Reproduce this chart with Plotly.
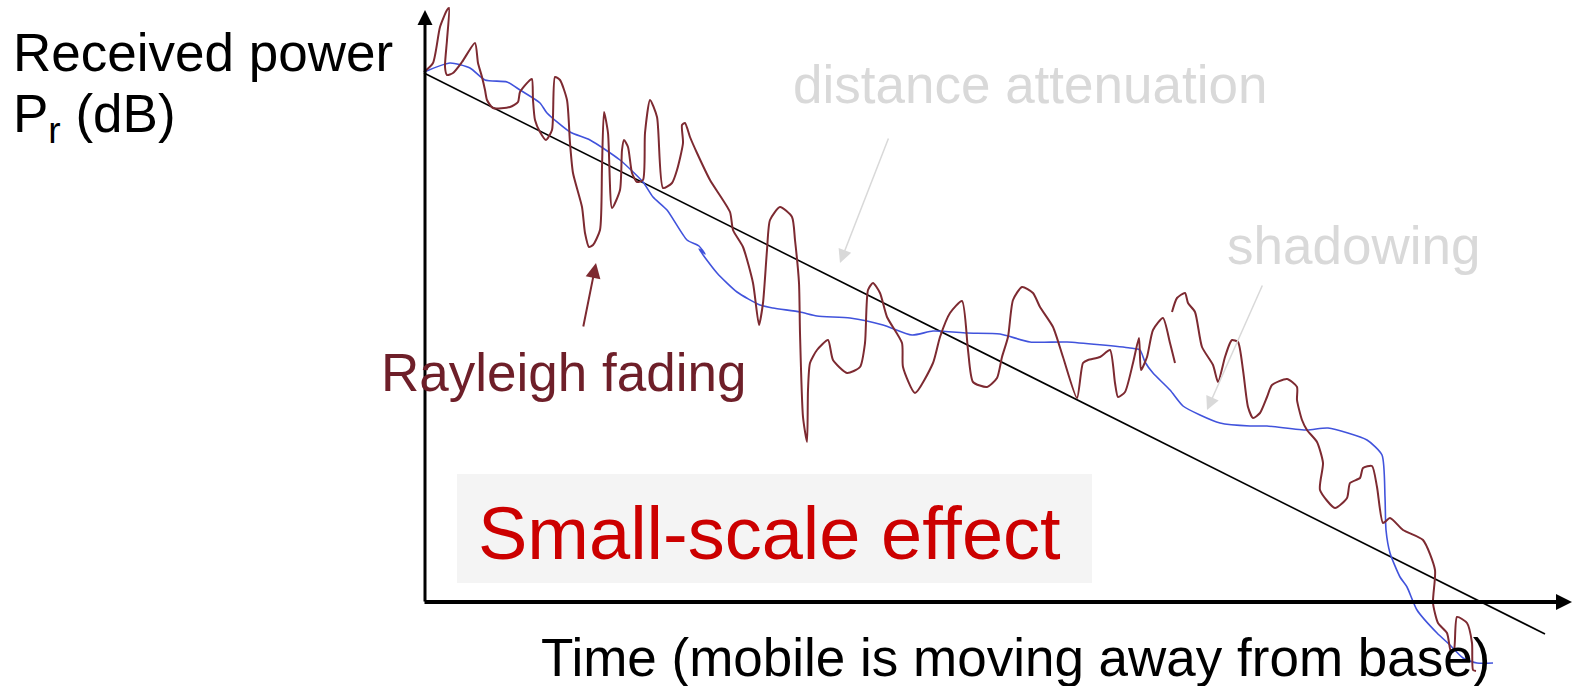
import plotly.graph_objects as go

# curves, in screen units (x to the right, y downwards)
fading_t = [424, 433, 440, 447, 449, 447, 445, 447, 453, 462, 475, 478, 482, 485, 487, 493, 510, 518, 520, 530,
            532, 533, 535, 540, 546, 552, 555, 560, 567, 570, 573, 582, 585, 589, 593, 600, 602, 604, 608, 612,
            620, 622, 624, 628, 632, 637, 643, 645, 650, 657, 663, 672, 677, 683, 682, 685, 690, 697, 710, 730,
            733, 743, 753, 759, 763, 767, 770, 780, 792, 795, 799, 800, 803, 807, 808, 810, 817, 828, 833, 847,
            860, 865, 868, 873, 880, 887, 902, 903, 915, 933, 940, 950, 962, 968, 973, 987, 997, 1002, 1008, 1013,
            1022, 1033, 1040, 1053, 1063, 1077, 1083, 1088, 1100, 1110, 1115, 1118, 1125, 1133, 1139, 1141, 1147,
            1153, 1163, 1170, 1175, None,
            1172, 1177, 1185, 1188, 1195, 1202, 1213, 1218, 1225, 1230, 1232, 1238, 1243, 1248, 1253, 1260, 1267,
            1272, 1287, 1297, 1297, 1302, 1307, 1317, 1323, 1320, 1335, 1347, 1350, 1360, 1363, 1372, 1377, 1383,
            1390, 1403, 1423, 1435, 1433, 1438, 1447, 1451, 1454, 1457, 1467, 1472, 1473, 1476]
fading_p = [72, 63, 27, 10, 8, 40, 67, 75, 73, 62, 43, 63, 77, 90, 100, 108, 107, 102, 92, 80,
            79, 100, 120, 132, 140, 130, 77, 80, 100, 143, 173, 207, 233, 247, 245, 230, 167, 112, 133, 208,
            190, 150, 140, 147, 173, 182, 180, 133, 100, 117, 188, 183, 170, 143, 125, 123, 137, 153, 180, 212,
            230, 247, 283, 325, 303, 250, 220, 207, 217, 240, 283, 333, 417, 442, 390, 363, 350, 340, 360, 373,
            367, 343, 290, 283, 293, 317, 343, 367, 393, 363, 337, 313, 301, 350, 382, 387, 378, 357, 337, 300,
            287, 293, 307, 327, 357, 398, 363, 360, 357, 350, 383, 397, 392, 363, 338, 370, 357,
            330, 318, 343, 363, None,
            312, 298, 293, 303, 312, 347, 365, 382, 357, 343, 340, 342, 370, 407, 418, 413, 397,
            385, 379, 387, 400, 420, 430, 442, 463, 490, 508, 498, 483, 478, 468, 466, 487, 523,
            518, 530, 540, 570, 603, 623, 633, 652, 650, 617, 623, 643, 670, 671]

shadow_t = [424, 450, 470, 485, 507, 520, 540, 547, 570, 590, 620, 643, 653, 667, 687, 699, 705, 699, 717, 737,
            760, 773, 800, 817, 850, 883, 912, 933, 967, 1000, 1030, 1067, 1130, 1140, 1145, 1153, 1170, 1183,
            1200, 1220, 1250, 1267, 1307, 1328, 1367, 1382, 1385, 1386, 1390, 1400, 1407, 1417, 1437, 1450,
            1463, 1477, 1493]
shadow_p = [72, 63, 68, 80, 82, 90, 103, 113, 132, 140, 160, 182, 197, 210, 240, 246, 254, 249, 273, 292,
            305, 308, 312, 316, 318, 325, 335, 331, 333, 334, 342, 342, 348, 350, 362, 373, 390, 406,
            415, 423, 426, 426, 430, 428, 440, 455, 497, 530, 553, 577, 587, 610, 633, 645,
            658, 663, 663]

path_loss_t = [424, 1545]
path_loss_p = [73, 634]

FONT = "Liberation Sans, Arial, sans-serif"

fig = go.Figure()
fig.add_trace(go.Scatter(x=path_loss_t, y=path_loss_p, mode="lines",
                         line=dict(color="black", width=1.6), hoverinfo="skip"))
fig.add_trace(go.Scatter(x=shadow_t, y=shadow_p, mode="lines",
                         line=dict(color="#4153dc", width=1.6, shape="spline", smoothing=0.6),
                         hoverinfo="skip"))
fig.add_trace(go.Scatter(x=fading_t, y=fading_p, mode="lines", connectgaps=False,
                         line=dict(color="#7d2a31", width=2, shape="spline", smoothing=0.6),
                         hoverinfo="skip"))

fig.add_shape(type="rect", x0=457, x1=1092, y0=474, y1=583, fillcolor="#f4f4f4",
              line=dict(width=0), layer="below")


def arrow(x, y, ax, ay, color, width, size):
    fig.add_annotation(x=x, y=y, ax=ax, ay=ay, axref="x", ayref="y", text="",
                       showarrow=True, arrowhead=2, arrowsize=size, arrowwidth=width,
                       arrowcolor=color)


arrow(425, 10, 425, 603, "black", 3, 1)
arrow(1572, 602, 423, 602, "black", 4, 0.8)
arrow(840, 263, 889, 137, "#d9d9d9", 1.5, 1.8)
arrow(1207, 410, 1263, 284, "#d9d9d9", 1.5, 1.8)
arrow(596, 263, 583, 328, "#7d2a31", 2, 1.5)


def label(x, y, text, color, size, anchor="center"):
    fig.add_annotation(x=x, y=y, text=text, showarrow=False, xanchor=anchor, yanchor="middle",
                       font=dict(family=FONT, size=size, color=color))


label(11, 52, "Received power", "black", 53, "left")
label(11, 117, "P<sub>r</sub> (dB)", "black", 53, "left")
label(1030, 84, "distance attenuation", "#d9d9d9", 53)
label(1353, 245, "shadowing", "#d9d9d9", 53)
label(563, 372, "Rayleigh fading", "#6e1f29", 53)
label(769, 533, "Small-scale effect", "#cc0000", 74)
label(1015, 657, "Time (mobile is moving away from base)", "black", 53)

fig.update_layout(width=1577, height=686, margin=dict(l=0, r=0, t=0, b=0),
                  paper_bgcolor="white", plot_bgcolor="white", showlegend=False,
                  xaxis=dict(range=[0, 1577], visible=False, fixedrange=True),
                  yaxis=dict(range=[686, 0], visible=False, fixedrange=True))

fig.write_html("out.html", config={"displayModeBar": False},
               post_script="document.body.style.margin='0';")
